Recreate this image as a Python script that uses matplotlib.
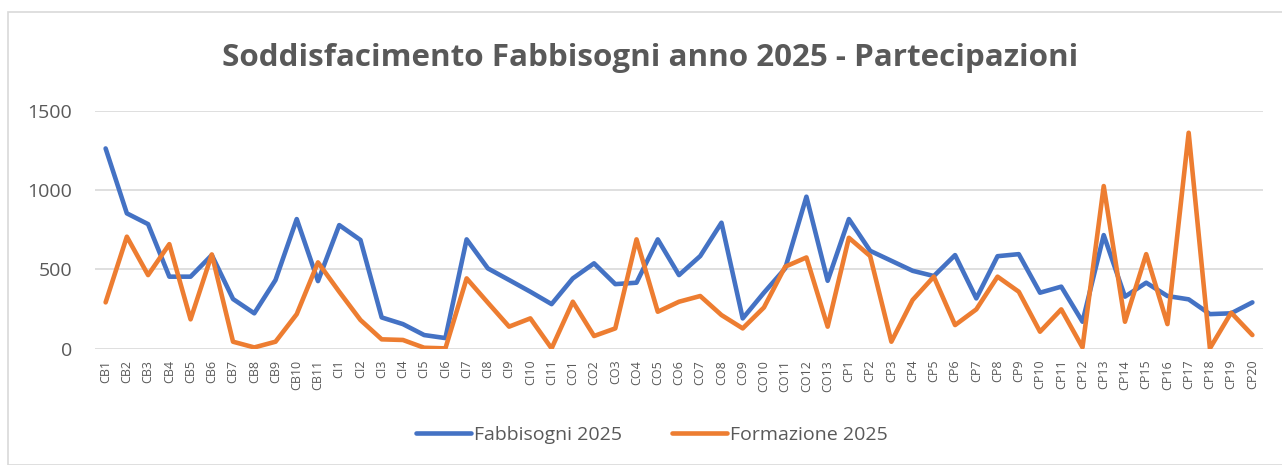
import matplotlib
matplotlib.use("Agg")
import matplotlib.pyplot as plt
from matplotlib.patches import Rectangle

categories = (["CB%d" % i for i in range(1, 12)] + ["CI%d" % i for i in range(1, 12)]
              + ["CO%d" % i for i in range(1, 14)] + ["CP%d" % i for i in range(1, 21)])

fabbisogni = [1262, 853, 785, 454, 454, 590, 313, 223, 433, 817, 426,
              779, 685, 197, 155, 86, 67, 689, 506, 433, 359, 281,
              443, 538, 407, 416, 689, 464, 584, 794, 191, 353, 506, 958, 428,
              817, 617, 554, 491, 458, 590, 317, 583, 596, 353, 391, 170, 716,
              328, 416, 332, 311, 218, 223, 292]
formazione = [292, 706, 464, 659, 185, 594, 44, 8, 44, 218, 544,
              359, 181, 59, 55, 6, 2, 443, 290, 139, 191, 2,
              296, 80, 128, 689, 233, 296, 332, 212, 128, 260, 517, 575, 139,
              699, 584, 44, 307, 454, 149, 248, 454, 359, 107, 248, 8, 1025,
              170, 596, 155, 1361, 2, 227, 86]

yticks = [0, 500, 1000, 1500]
title = "Soddisfacimento Fabbisogni anno 2025 - Partecipazioni"
series_names = ["Fabbisogni 2025", "Formazione 2025"]

TXT = "#595959"
fig = plt.figure(figsize=(12.82, 4.65), dpi=100)
fig.patches.append(Rectangle((8 / 1282, 0), 1.0, 1 - 12 / 465, transform=fig.transFigure,
                             fill=False, edgecolor="#D9D9D9", linewidth=1.2))

ax = fig.add_axes([95 / 1282, 1 - 348.7 / 465, (1263 - 95) / 1282, (348.7 - 110.7) / 465])
x = list(range(len(categories)))
ax.plot(x, fabbisogni, color="#4472C4", linewidth=3.3, solid_joinstyle="round",
        solid_capstyle="round", label=series_names[0], zorder=3)
ax.plot(x, formazione, color="#ED7D31", linewidth=3.3, solid_joinstyle="round",
        solid_capstyle="round", label=series_names[1], zorder=4)

ax.set_xlim(-0.5, len(categories) - 0.5)
ax.set_ylim(0, 1500)
ax.set_yticks(yticks)
ax.set_yticklabels([str(v) for v in yticks], fontsize=14, color=TXT, family="Open Sans")
ax.set_xticks(x)
ax.set_xticklabels(categories, rotation=90, fontsize=9, color=TXT, family="Open Sans")
ax.tick_params(axis="both", length=0)
ax.tick_params(axis="y", pad=16.5)
ax.tick_params(axis="x", pad=8)
ax.grid(axis="y", color="#D9D9D9", linewidth=1.2)
ax.set_axisbelow(True)
for s in ax.spines.values():
    s.set_visible(False)

fig.text(650 / 1282, 1 - 58 / 465, title, ha="center", va="center", fontsize=22.6,
         fontweight="bold", color=TXT, family="Open Sans")

leg = fig.legend(loc="center", bbox_to_anchor=(652 / 1282, 1 - 435 / 465), ncol=2,
                 frameon=False, handlelength=2.8, handletextpad=0.15,
                 columnspacing=2.6, prop={"family": "Open Sans", "size": 14})
for t in leg.get_texts():
    t.set_color(TXT)

fig.savefig("out.png", dpi=100)
